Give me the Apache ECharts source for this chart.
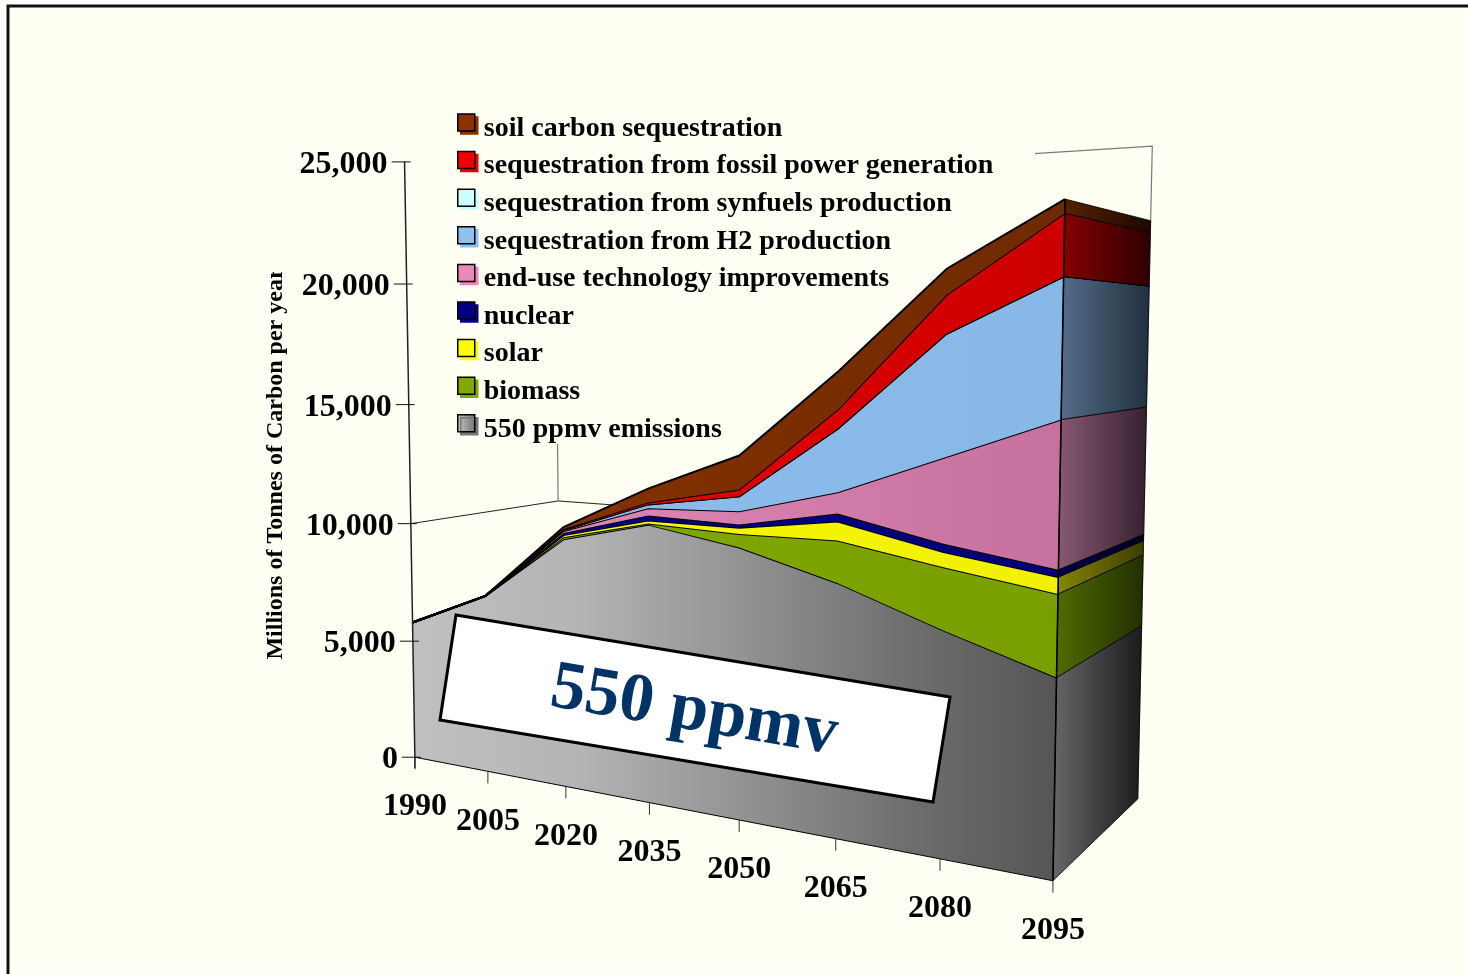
<!DOCTYPE html>
<html>
<head>
<meta charset="utf-8">
<title>550 ppmv</title>
<style>
  html, body { margin: 0; padding: 0; background: #fff; }
  #chart { width: 1468px; height: 974px; }
</style>
<script src="https://cdn.jsdelivr.net/npm/echarts@6/dist/echarts.min.js"></script>
</head>
<body>
<div id="chart"></div>
<script>
// data (millions of tonnes of carbon per year)
const years = ['1990', '2005', '2020', '2035', '2050', '2065', '2080', '2095'];
const yTicks = [0, 5000, 10000, 15000, 20000, 25000];
const emissions = [5800, 7300, 9915, 10755, 10180, 9220, 7950, 6800];
const biomass = [0, 0, 80, 40, 500, 1505, 2150, 2750];
const solar = [0, 0, 80, 120, 230, 670, 520, 555];
const nuclear = [0, 0, 80, 190, 115, 285, 280, 240];
const endUse = [0, 0, 80, 270, 485, 750, 2920, 4875];
const h2 = [0, 0, 40, 150, 550, 2240, 4135, 4565];
const synfuels = [0, 0, 0, 0, 0, 0, 0, 0];
const fossil = [0, 0, 40, 70, 250, 665, 1295, 2000];
const soil = [0, 0, 80, 530, 1240, 1325, 870, 445];

const layers = [
  { name: '550 ppmv emissions', values: emissions, legend: '#a8a8a8', front: ['#c0c0c0', '#b4b4b4', '#949494', '#707070', '#555555'], side: ['#646464', '#161616'] },
  { name: 'biomass', values: biomass, legend: '#80a800', front: ['#84ac00', '#789e00'], side: ['#4f6c00', '#1f2c00'] },
  { name: 'solar', values: solar, legend: '#ffff00', front: ['#fbfb00', '#f0f000'], side: ['#888800', '#383800'] },
  { name: 'nuclear', values: nuclear, legend: '#000080', front: ['#000084', '#000078'], side: ['#00004c', '#00001e'] },
  { name: 'end-use technology improvements', values: endUse, legend: '#e88ab8', front: ['#e68cba', '#c6729e'], side: ['#8a5a75', '#36202e'] },
  { name: 'sequestration from H2 production', values: h2, legend: '#8fc0f0', front: ['#8dbdec', '#88b8e6'], side: ['#57708c', '#21323f'] },
  { name: 'sequestration from synfuels production', values: synfuels, legend: '#ccffff', front: ['#ccffff', '#ccffff'], side: ['#668080', '#223030'] },
  { name: 'sequestration from fossil power generation', values: fossil, legend: '#f00000', front: ['#f00000', '#cc0000'], side: ['#8c0000', '#300000'] },
  { name: 'soil carbon sequestration', values: soil, legend: '#8b3200', front: ['#8c3300', '#6e2a00'], side: ['#5a2300', '#1e0a00'] }
];

// stack the layers
let running = years.map(() => 0);
layers.forEach(layer => {
  layer.lower = running;
  layer.upper = running.map((v, i) => v + layer.values[i]);
  running = layer.upper;
});

// camera: screen positions of known spots on the chart box, (u, v, w) = (x axis, y axis, depth) 0..1
const anchors = [
  [0, 0, 0, 415, 757.5], [0, 0.2, 0, 413, 642], [0, 0.4, 0, 411, 523], [0, 0.6, 0, 409, 405],
  [0, 0.8, 0, 407, 284], [0, 1, 0, 404.5, 162], [1, 0, 0, 1053, 881], [1, 1, 0, 1066, 110],
  [1, 0, 1, 1138.5, 798], [1, 1, 1, 1152, 145], [0, 0.4, 1, 558, 500],
  [1 / 7, 0, 0, 488, 772], [2 / 7, 0, 0, 565, 786], [3 / 7, 0, 0, 648.7, 803],
  [4 / 7, 0, 0, 739, 820], [5 / 7, 0, 0, 836, 838], [6 / 7, 0, 0, 941, 858],
  [1, 0.889, 1, 1151, 222], [1, 0.609, 1, 1147, 407], [1, 0.414, 1, 1144, 535], [1, 0.272, 1, 1140, 627]
];

function solveCamera() {
  const n = 11;
  const A = [];
  for (let i = 0; i < n; i++) A.push(new Array(n + 1).fill(0));
  const addRow = (row, rhs) => {
    for (let i = 0; i < n; i++) {
      for (let j = 0; j < n; j++) A[i][j] += row[i] * row[j];
      A[i][n] += row[i] * rhs;
    }
  };
  anchors.forEach(([u, v, w, x, y]) => {
    const sx = x / 1000, sy = y / 1000;
    addRow([1, u, v, w, 0, 0, 0, 0, -sx * u, -sx * v, -sx * w], sx);
    addRow([0, 0, 0, 0, 1, u, v, w, -sy * u, -sy * v, -sy * w], sy);
  });
  for (let c = 0; c < n; c++) {
    let p = c;
    for (let r = c + 1; r < n; r++) if (Math.abs(A[r][c]) > Math.abs(A[p][c])) p = r;
    [A[c], A[p]] = [A[p], A[c]];
    for (let r = 0; r < n; r++) {
      if (r === c) continue;
      const f = A[r][c] / A[c][c];
      for (let k = c; k <= n; k++) A[r][k] -= f * A[c][k];
    }
  }
  return A.map((row, i) => row[n] / row[i]);
}
const cam = solveCamera();

function project(u, v, w) {
  const d = 1 + cam[8] * u + cam[9] * v + cam[10] * w;
  return [
    1000 * (cam[0] + cam[1] * u + cam[2] * v + cam[3] * w) / d,
    1000 * (cam[4] + cam[5] * u + cam[6] * v + cam[7] * w) / d
  ];
}

const chartW = 1468, chartH = 974;
// goes through the hidden axes, then through the camera
function toScreen(api, i, value, w) {
  const p = api.coord([i, value]);
  return project(p[0] / chartW, 1 - p[1] / chartH, w);
}

function hGradient(x1, x2, colors) {
  return { type: 'linear', x: x1, y: 0, x2: x2, y2: 0, global: true,
    colorStops: colors.map((c, i) => ({ offset: i / (colors.length - 1), color: c })) };
}

const layerSeries = layers.map(layer => ({
  name: layer.name,
  type: 'custom',
  z: 3,
  itemStyle: { color: layer.legend },
  data: years.map((y, i) => [i, layer.lower[i], layer.upper[i]]),
  renderItem: (params, api) => {
    if (params.dataIndex !== 0) return null;
    const last = years.length - 1;
    const top = years.map((y, i) => toScreen(api, i, layer.upper[i], 0));
    const bottom = years.map((y, i) => toScreen(api, i, layer.lower[i], 0));
    const sidePts = [
      toScreen(api, last, layer.upper[last], 0), toScreen(api, last, layer.upper[last], 1),
      toScreen(api, last, layer.lower[last], 1), toScreen(api, last, layer.lower[last], 0)
    ];
    return {
      type: 'group',
      children: [
        { type: 'polygon', shape: { points: top.concat(bottom.slice().reverse()) },
          style: { fill: hGradient(415, 1060, layer.front) } },
        { type: 'polygon', shape: { points: sidePts },
          style: { fill: hGradient(1056, 1148, layer.side), stroke: '#000', lineWidth: 0.8 } },
        { type: 'polyline', shape: { points: top },
          style: { fill: 'none', stroke: '#000', lineWidth: 2 } }
      ]
    };
  }
}));

// box edges and the few grid lines that show
const wallSeries = {
  type: 'custom',
  z: 2,
  silent: true,
  data: [[0]],
  renderItem: (params, api) => {
    const last = years.length - 1;
    const line = pts => ({ type: 'polyline', shape: { points: pts },
      style: { fill: 'none', stroke: '#777', lineWidth: 1.2 } });
    return {
      type: 'group',
      children: [
        { type: 'polyline', shape: { points: [toScreen(api, 0, 10000, 0), toScreen(api, 0, 10000, 1), toScreen(api, last, 10000, 1)] },
          style: { fill: 'none', stroke: '#222', lineWidth: 1 } },
        line([toScreen(api, 0, 10000, 1), toScreen(api, 0, 25000, 1), toScreen(api, last, 25000, 1), toScreen(api, last, 0, 1)])
      ]
    };
  }
};

const labelFont = 'bold 32px "Liberation Serif", "Times New Roman", serif';

const yAxisSeries = {
  type: 'custom',
  z: 6,
  silent: true,
  data: yTicks.map(t => [t]),
  renderItem: (params, api) => {
    const p = toScreen(api, 0, api.value(0), 0);
    const children = [
      { type: 'line', shape: { x1: p[0] - 13, y1: p[1], x2: p[0] + 6, y2: p[1] }, style: { stroke: '#111', lineWidth: 1 } },
      { type: 'text', style: { text: api.value(0).toLocaleString('en-US'), x: p[0] - 17, y: p[1] + 3, align: 'right', verticalAlign: 'middle', font: labelFont, fill: '#000' } }
    ];
    if (params.dataIndex === 0) {
      children.push({ type: 'polyline', shape: { points: [toScreen(api, 0, 25000, 0), p, [p[0], p[1] + 11]] },
        style: { fill: 'none', stroke: '#222', lineWidth: 1.5 } });
    }
    return { type: 'group', children };
  }
};

const xAxisSeries = {
  type: 'custom',
  z: 6,
  silent: true,
  data: years.map((y, i) => [i]),
  renderItem: (params, api) => {
    const i = api.value(0);
    const p = toScreen(api, i, 0, 0);
    const children = [
      { type: 'line', shape: { x1: p[0], y1: p[1], x2: p[0], y2: p[1] + 12 }, style: { stroke: '#333', lineWidth: 1 } },
      { type: 'text', style: { text: years[i], x: p[0], y: p[1] + 50, align: 'center', verticalAlign: 'middle', font: labelFont, fill: '#000' } }
    ];
    if (i < years.length - 1) {
      const next = toScreen(api, i + 1, 0, 0);
      children.push({ type: 'line', shape: { x1: p[0], y1: p[1], x2: next[0], y2: next[1] },
        style: { stroke: '#000', lineWidth: 1 } });
    } else {
      // front edge of the last year
      const peak = toScreen(api, i, running[i], 0);
      children.push({ type: 'line', shape: { x1: p[0], y1: p[1], x2: peak[0], y2: peak[1] },
        style: { stroke: '#000', lineWidth: 1.6 } });
    }
    return { type: 'group', children };
  }
};

const greyIcon = { type: 'linear', x: 0, y: 0, x2: 1, y2: 0, colorStops: [{ offset: 0, color: '#c8c8c8' }, { offset: 1, color: '#707070' }] };
// square in the upper part of the symbol box, so it sits above the text centre as in the original
const legendIcon = 'path://M0,0 L17,0 L17,17 L0,17 Z M0,29 L0,29 Z';

const option = {
  animation: false,
  grid: { left: 0, right: 0, top: 0, bottom: 0 },
  xAxis: { type: 'category', data: years, boundaryGap: false, show: false },
  yAxis: { type: 'value', min: 0, max: 25000, interval: 5000, show: false },
  legend: {
    orient: 'vertical',
    left: 457,
    top: 113,
    padding: 0,
    itemWidth: 17,
    itemHeight: 29,
    itemGap: 6.6,
    selectedMode: false,
    textStyle: { fontFamily: '"Liberation Serif", serif', fontWeight: 'bold', fontSize: 28, color: '#000', lineHeight: 31, padding: [0, 0, 0, 4] },
    data: layers.slice().reverse().map(l => ({
      name: l.name,
      icon: legendIcon,
      itemStyle: { color: l.name === '550 ppmv emissions' ? greyIcon : l.legend, borderColor: '#000', borderWidth: 1.5, shadowColor: l.name === '550 ppmv emissions' ? '#777' : l.legend, shadowOffsetX: 3, shadowOffsetY: 3, shadowBlur: 0 }
    }))
  },
  graphic: [
    { type: 'rect', z: 0, silent: true, shape: { x: 8, y: 6, width: 1600, height: 1100 },
      style: { fill: '#FFFFF3', stroke: '#111', lineWidth: 3 } },
    // the legend box hides the grid lines behind it, the areas stay in front of it
    { type: 'rect', z: 2.5, silent: true, shape: { x: 455, y: 108, width: 580, height: 336 },
      style: { fill: '#FFFFF3' } },
    { type: 'text', z: 6, silent: true, x: 276, y: 464, rotation: Math.PI / 2,
      style: { text: 'Millions of Tonnes of Carbon per year', align: 'center', verticalAlign: 'middle', font: 'bold 24px "Liberation Serif", serif', fill: '#000' } },
    // the end of the axis title is cut off in the original
    { type: 'rect', z: 7, silent: true, shape: { x: 260, y: 260, width: 30, height: 12 },
      style: { fill: '#FFFFF3' } },
    { type: 'polygon', z: 10, silent: true, shape: { points: [[456, 615], [950, 697], [933, 802], [440, 720]] },
      style: { fill: '#fff', stroke: '#000', lineWidth: 3 } },
    { type: 'text', z: 11, silent: true, x: 694, y: 712, rotation: -9.6 * Math.PI / 180,
      style: { text: '550 ppmv', align: 'center', verticalAlign: 'middle', font: 'bold 69px "Liberation Serif", serif', fill: '#003366' } }
  ],
  series: [wallSeries].concat(layerSeries, [yAxisSeries, xAxisSeries])
};

const chart = echarts.init(document.getElementById('chart'), null, { renderer: 'canvas' });
chart.setOption(option);
</script>
</body>
</html>
